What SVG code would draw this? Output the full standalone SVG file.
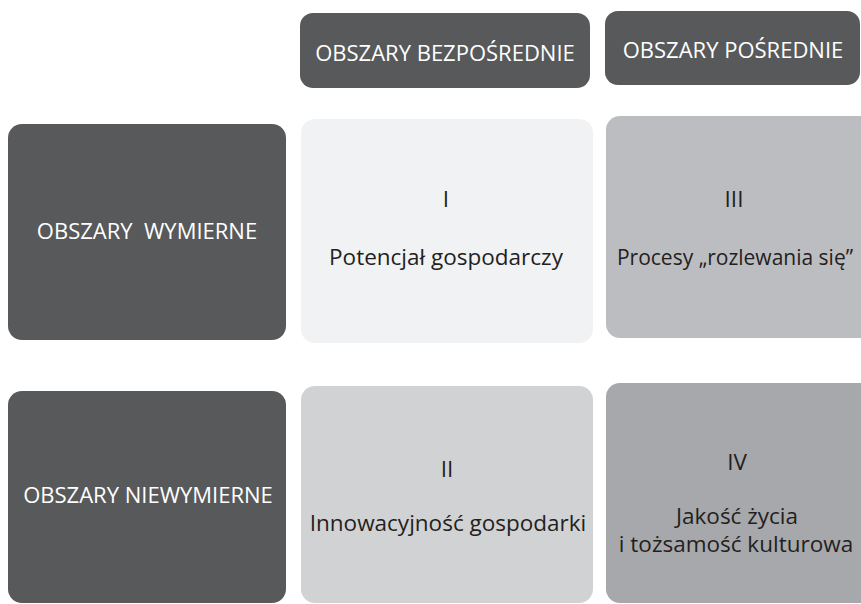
<svg xmlns="http://www.w3.org/2000/svg" width="861" height="604" viewBox="0 0 861 604">
  <style>
    .dark { fill: #58595b; }
    .c1 { fill: #f1f2f3; }
    .c2 { fill: #d1d2d4; }
    .c3 { fill: #bcbdc0; }
    .c4 { fill: #a7a8ab; }
    text { font-family: "Open Sans", "Noto Sans", "DejaVu Sans", sans-serif; font-size: 22px; text-anchor: middle; }
    .w { fill: #ffffff; }
    .k { fill: #231f20; }
    .lg { font-size: 22.5px; }
    .sm { font-size: 21px; }
  </style>
  <rect width="861" height="604" fill="#ffffff"/>

  <!-- column headers -->
  <g id="col-direct">
    <rect class="dark" x="300" y="13" width="290" height="75" rx="13"/>
    <text class="w" x="445" y="61">OBSZARY BEZPOŚREDNIE</text>
  </g>
  <g id="col-indirect">
    <rect class="dark" x="605" y="11" width="255" height="74" rx="13"/>
    <text class="w" x="733" y="58">OBSZARY POŚREDNIE</text>
  </g>

  <!-- row headers -->
  <g id="row-measurable">
    <rect class="dark" x="8" y="124" width="278" height="216" rx="14"/>
    <text class="w" x="147" y="239" xml:space="preserve">OBSZARY  WYMIERNE</text>
  </g>
  <g id="row-unmeasurable">
    <rect class="dark" x="8" y="391" width="278" height="212" rx="14"/>
    <text class="w" x="148" y="503">OBSZARY NIEWYMIERNE</text>
  </g>

  <!-- quadrants (right column runs to the right edge) -->
  <g id="q1">
    <rect class="c1" x="301" y="119" width="292" height="224" rx="14"/>
    <text class="k lg" x="446" y="207">I</text>
    <text class="k lg" x="446" y="265">Potencjał gospodarczy</text>
  </g>
  <g id="q3">
    <path class="c3" d="M620 116 H861 V338 H620 A14 14 0 0 1 606 324 V130 A14 14 0 0 1 620 116 Z"/>
    <text class="k lg" x="734" y="207">III</text>
    <text class="k sm" x="735" y="265">Procesy „rozlewania się”</text>
  </g>
  <g id="q2">
    <rect class="c2" x="301" y="386" width="292" height="217" rx="14"/>
    <text class="k lg" x="447" y="477">II</text>
    <text class="k lg" x="448" y="531">Innowacyjność gospodarki</text>
  </g>
  <g id="q4">
    <path class="c4" d="M620 383 H861 V603 H620 A14 14 0 0 1 606 589 V397 A14 14 0 0 1 620 383 Z"/>
    <text class="k lg" x="737" y="470">IV</text>
    <text class="k lg" x="737" y="524">Jakość życia</text>
    <text class="k lg" x="736" y="552">i tożsamość kulturowa</text>
  </g>

  <g id="connectors"/>
</svg>
